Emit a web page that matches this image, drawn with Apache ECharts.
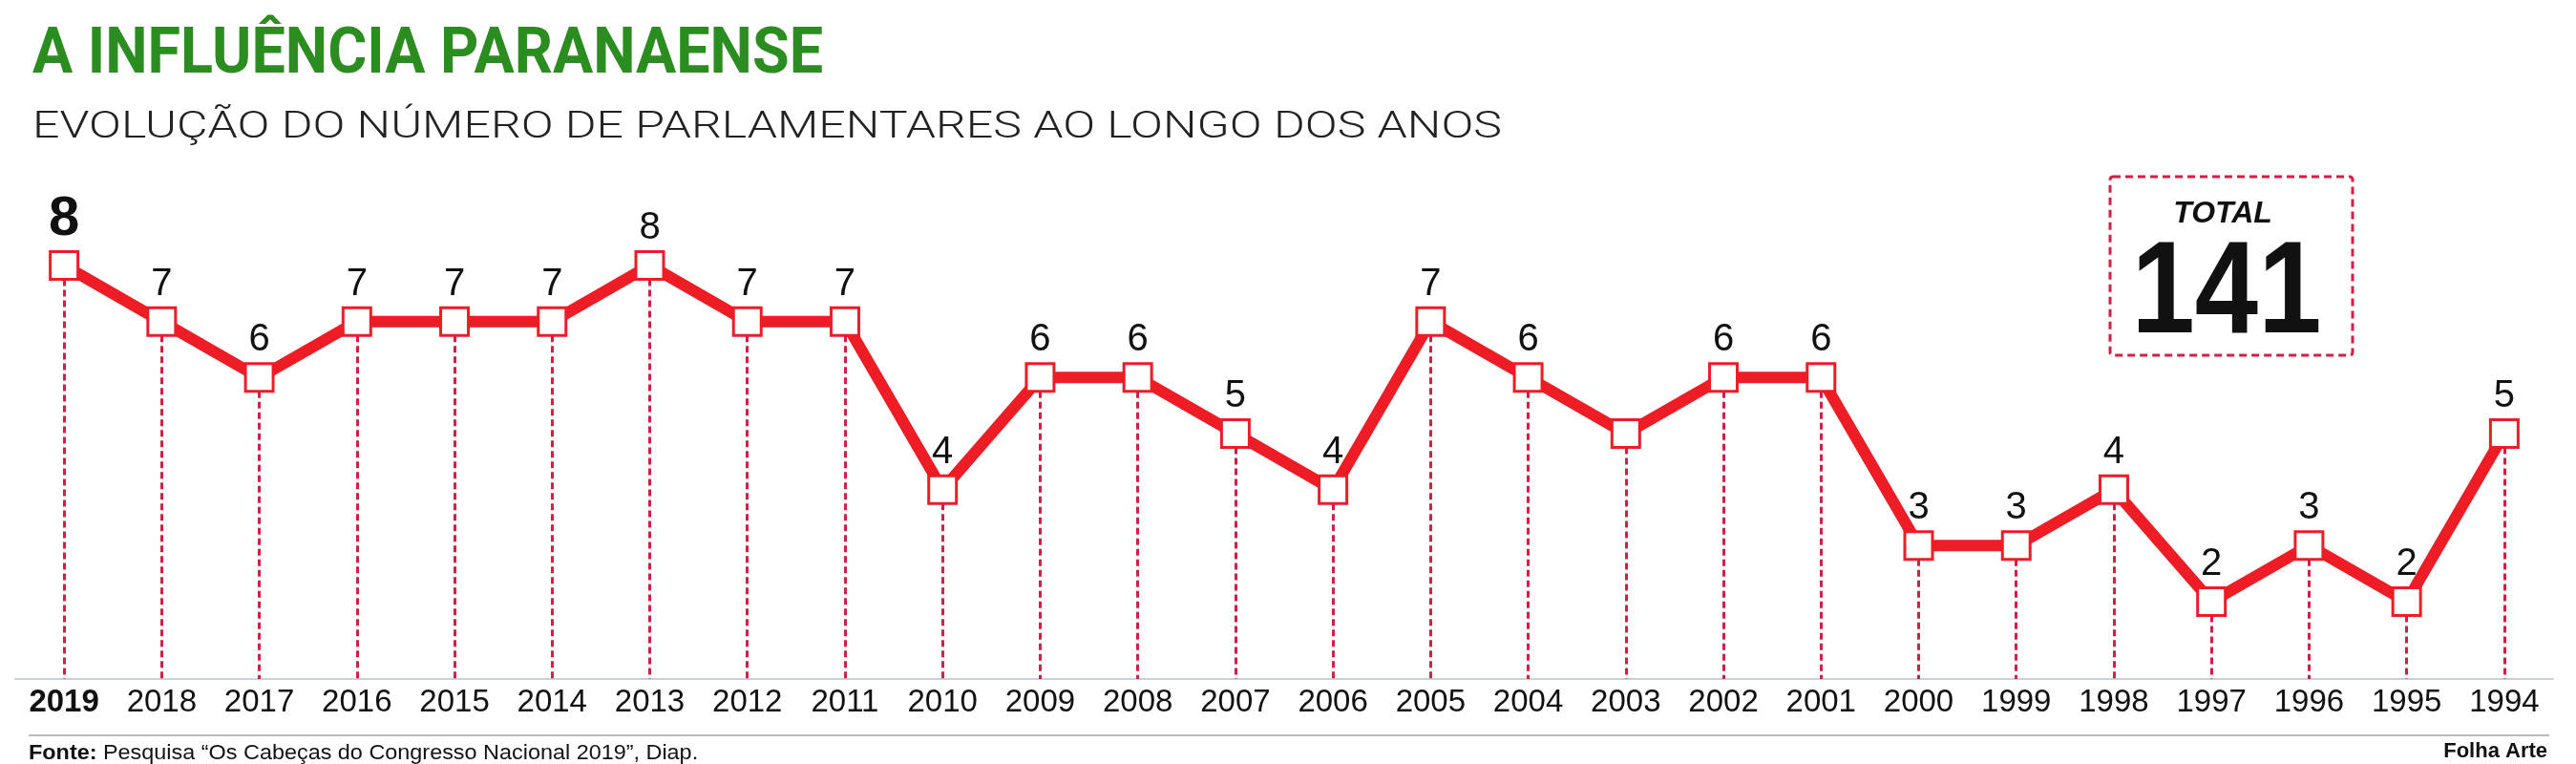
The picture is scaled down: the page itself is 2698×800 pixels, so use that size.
<!DOCTYPE html>
<html>
<head>
<meta charset="utf-8">
<script src="https://cdn.jsdelivr.net/npm/echarts@6/dist/echarts.min.js"></script>
<style>
  html, body { margin: 0; padding: 0; background: #fff; }
  #chart { width: 2698px; height: 800px; }
</style>
</head>
<body>
<div id="chart"></div>
<script>
// anos (da esquerda para a direita, como no original)
const years = ['2019', '2018', '2017', '2016', '2015', '2014', '2013', '2012', '2011', '2010',
  '2009', '2008', '2007', '2006', '2005', '2004', '2003', '2002', '2001', '2000',
  '1999', '1998', '1997', '1996', '1995', '1994']
// número de parlamentares paranaenses
const deputies = [8, 7, 6, 7, 7, 7, 8, 7, 7, 4, 6, 6, 5, 4, 7, 6, 5, 6, 6, 3, 3, 4, 2, 3, 2, 5]
// anos sem rótulo no original
const unlabeledYears = ['2003']

const total = deputies.reduce((a, b) => a + b, 0)

const RED = '#ee1d25'
const DASH_RED = '#d41f45'
const Y_MIN = 0.62
const Y_MAX = 8
const GRID_TOP = 278
const GRID_BOTTOM = 89
const MARK = 29

// meia altura do marcador em unidades do eixo (para a linha tracejada começar embaixo dele)
const unitPx = (800 - GRID_TOP - GRID_BOTTOM) / (Y_MAX - Y_MIN)
const markHalf = (MARK / 2) / unitPx

// largura do texto para comprimir as fontes (substitui a fonte condensada)
const ctx = document.createElement('canvas').getContext('2d')
function fitScale(text, font, target) {
  ctx.font = font
  return target / ctx.measureText(text).width
}

const titleFont = 'bold 66px Roboto'
const subFont = '300 38px Roboto'
const srcText = 'Fonte: Pesquisa “Os Cabeças do Congresso Nacional 2019”, Diap.'
const srcFont = '22px "Liberation Sans"'
const sans = '"Liberation Sans", Arial, sans-serif'

const chart = echarts.init(document.getElementById('chart'))

const seriesData = deputies.map((v, i) => {
  const item = { value: v }
  if (i === 0) item.label = { fontSize: 58, fontWeight: 'bold', distance: 3 }
  if (unlabeledYears.includes(years[i])) item.label = { show: false }
  return item
})

// linhas tracejadas do ponto até o eixo
const dropLines = deputies.map((v, i) => [
  { coord: [i, v - markHalf] },
  { coord: [i, Y_MIN] }
])

chart.setOption({
  animation: false,
  grid: { left: 16, right: 24, top: GRID_TOP, bottom: GRID_BOTTOM },
  xAxis: {
    type: 'category',
    data: years,
    boundaryGap: true,
    axisLine: { lineStyle: { color: '#c8d2d5', width: 2 } },
    axisTick: { show: false },
    axisLabel: {
      interval: 0,
      margin: 8,
      fontSize: 33,
      color: '#111',
      fontFamily: sans,
      formatter: (val, idx) => idx === 0 ? '{b|' + val + '}' : val,
      rich: { b: { fontSize: 33, fontWeight: 'bold', color: '#111', fontFamily: sans } }
    }
  },
  yAxis: {
    type: 'value',
    min: Y_MIN,
    max: Y_MAX,
    show: false
  },
  series: [
    {
      type: 'line',
      data: deputies,
      symbol: 'none',
      lineStyle: { opacity: 0 },
      silent: true,
      z: 1,
      markLine: {
        silent: true,
        symbol: ['none', 'none'],
        label: { show: false },
        lineStyle: { color: DASH_RED, width: 3, type: [7, 4] },
        data: dropLines
      }
    },
    {
      type: 'line',
      data: seriesData,
      z: 3,
      symbol: 'rect',
      symbolSize: MARK,
      lineStyle: { color: RED, width: 12 },
      itemStyle: { color: '#fff', borderColor: RED, borderWidth: 3 },
      label: {
        show: true,
        position: 'top',
        distance: 3,
        fontSize: 40,
        color: '#111',
        fontFamily: sans
      }
    }
  ],
  graphic: [
    {
      type: 'text', x: 34, y: 59,
      scaleX: fitScale('A INFLUÊNCIA PARANAENSE', titleFont, 828),
      style: { text: 'A INFLUÊNCIA PARANAENSE', font: titleFont, fill: '#2b8c1f', verticalAlign: 'middle', align: 'left' }
    },
    {
      type: 'text', x: 34, y: 134,
      scaleX: fitScale('EVOLUÇÃO DO NÚMERO DE PARLAMENTARES AO LONGO DOS ANOS', subFont, 1539),
      style: { text: 'EVOLUÇÃO DO NÚMERO DE PARLAMENTARES AO LONGO DOS ANOS', font: subFont, fill: '#222', verticalAlign: 'middle', align: 'left' }
    },
    // quadro do total
    {
      type: 'rect',
      shape: { x: 2210, y: 185, width: 254, height: 187, r: 3 },
      style: { fill: '#fff', stroke: DASH_RED, lineWidth: 3, lineDash: [8, 5] }
    },
    {
      type: 'text', x: 2328, y: 224,
      style: { text: 'TOTAL', font: 'italic bold 32px "Liberation Sans", Arial', fill: '#111', align: 'center', verticalAlign: 'middle' }
    },
    {
      type: 'text', x: 2332, y: 310, scaleX: 0.87,
      style: { text: String(total), font: 'bold 137px "Liberation Sans", Arial', fill: '#111', align: 'center', verticalAlign: 'middle' }
    },
    // rodapé
    {
      type: 'line',
      shape: { x1: 30, y1: 770, x2: 2670, y2: 770 },
      style: { stroke: '#bbbbbb', lineWidth: 2 }
    },
    {
      type: 'text', x: 30, y: 789,
      scaleX: fitScale(srcText, srcFont, 696),
      style: {
        text: '{b|Fonte:} Pesquisa “Os Cabeças do Congresso Nacional 2019”, Diap.',
        font: srcFont, fill: '#111', verticalAlign: 'middle', align: 'left',
        rich: { b: { fontWeight: 'bold', fontSize: 22, fontFamily: '"Liberation Sans"', fill: '#111' } }
      }
    },
    {
      type: 'text', x: 2668, y: 787,
      style: { text: 'Folha Arte', font: 'bold 22px "Liberation Sans", Arial', fill: '#111', align: 'right', verticalAlign: 'middle' }
    }
  ]
})
</script>
</body>
</html>
